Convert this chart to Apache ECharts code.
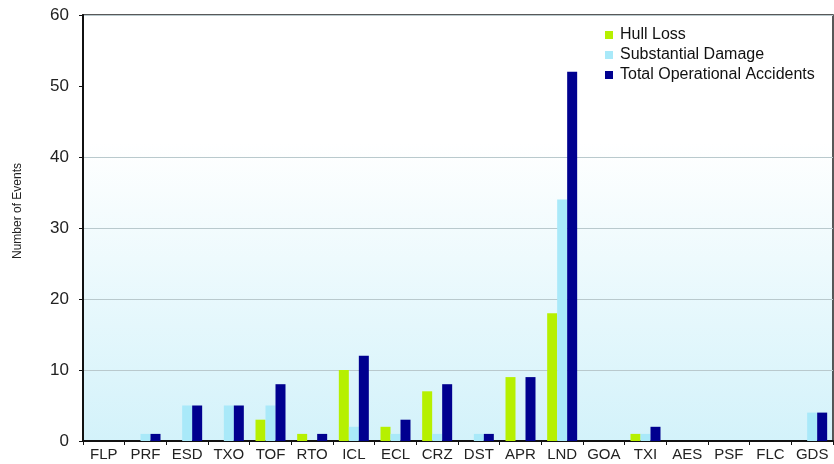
<!DOCTYPE html>
<html>
<head>
<meta charset="utf-8">
<script src="https://cdn.jsdelivr.net/npm/echarts@6/dist/echarts.min.js"></script>
<style>html,body{margin:0;padding:0;background:#fff}#c{width:834px;height:464px}</style>
</head>
<body>
<div id="c"></div>
<script>
var categories = ['FLP','PRF','ESD','TXO','TOF','RTO','ICL','ECL','CRZ','DST','APR','LND','GOA','TXI','AES','PSF','FLC','GDS'];
var hullLoss = [0,0,0,0,3,1,10,2,7,0,9,18,0,1,0,0,0,0];
var substantialDamage = [0,1,5,5,5,0,2,1,1,1,0,34,0,1,0,0,0,4];
var totalOperational = [0,1,5,5,8,1,12,3,8,1,9,52,0,2,0,0,0,4];
var yTicks = [0,10,20,30,40,50,60];

var chart = echarts.init(document.getElementById('c'), null, {renderer:'canvas'});
var font = 'Liberation Sans, Arial, sans-serif';
var gl = '#b9c9cd';
chart.setOption({
  animation:false,
  textStyle:{fontFamily:font},
  grid:{left:83,right:1,top:15,bottom:23,show:true,borderColor:'#222',borderWidth:1.5,
    backgroundColor:new echarts.graphic.LinearGradient(0,0,0,1,[
      {offset:0,color:'#ffffff'},{offset:0.3,color:'#ffffff'},{offset:1,color:'#d3f2fa'}])},
  legend:{orient:'vertical',left:600,top:22,itemWidth:8,itemHeight:8,itemGap:4,
    icon:'rect',
    textStyle:{fontFamily:font,fontSize:16,color:'#111',padding:[0,0,0,2]},
    data:['Hull Loss','Substantial Damage','Total Operational Accidents']},
  graphic:[{type:'text',x:18,y:211,rotation:Math.PI/2,
    style:{text:'Number of Events',font:'12px '+font,fill:'#222',textAlign:'center',textVerticalAlign:'middle'}}],
  xAxis:{type:'category',data:categories,
    axisLine:{lineStyle:{color:'#111',width:2}},
    axisTick:{show:true,length:4,lineStyle:{color:'#111'}},
    axisLabel:{fontFamily:font,fontSize:15,color:'#222',margin:6,interval:0}},
  yAxis:{type:'value',min:yTicks[0],max:yTicks[yTicks.length-1],interval:10,
    axisLine:{show:true,lineStyle:{color:'#111',width:2}},
    axisTick:{show:true,length:4,lineStyle:{color:'#111'}},
    axisLabel:{fontFamily:font,fontSize:17,color:'#222',margin:14},
    splitLine:{show:true,lineStyle:{color:[gl,gl,gl,gl,gl,'rgba(0,0,0,0)',gl],width:1}}},
  series:[
    {name:'Hull Loss',type:'bar',data:hullLoss,barWidth:10,barGap:'0%',itemStyle:{color:'#b6f000'}},
    {name:'Substantial Damage',type:'bar',data:substantialDamage,barWidth:10,barGap:'0%',itemStyle:{color:'#a9e9f9'}},
    {name:'Total Operational Accidents',type:'bar',data:totalOperational,barWidth:10,barGap:'0%',itemStyle:{color:'#00008f'}}
  ]
});
</script>
</body>
</html>
